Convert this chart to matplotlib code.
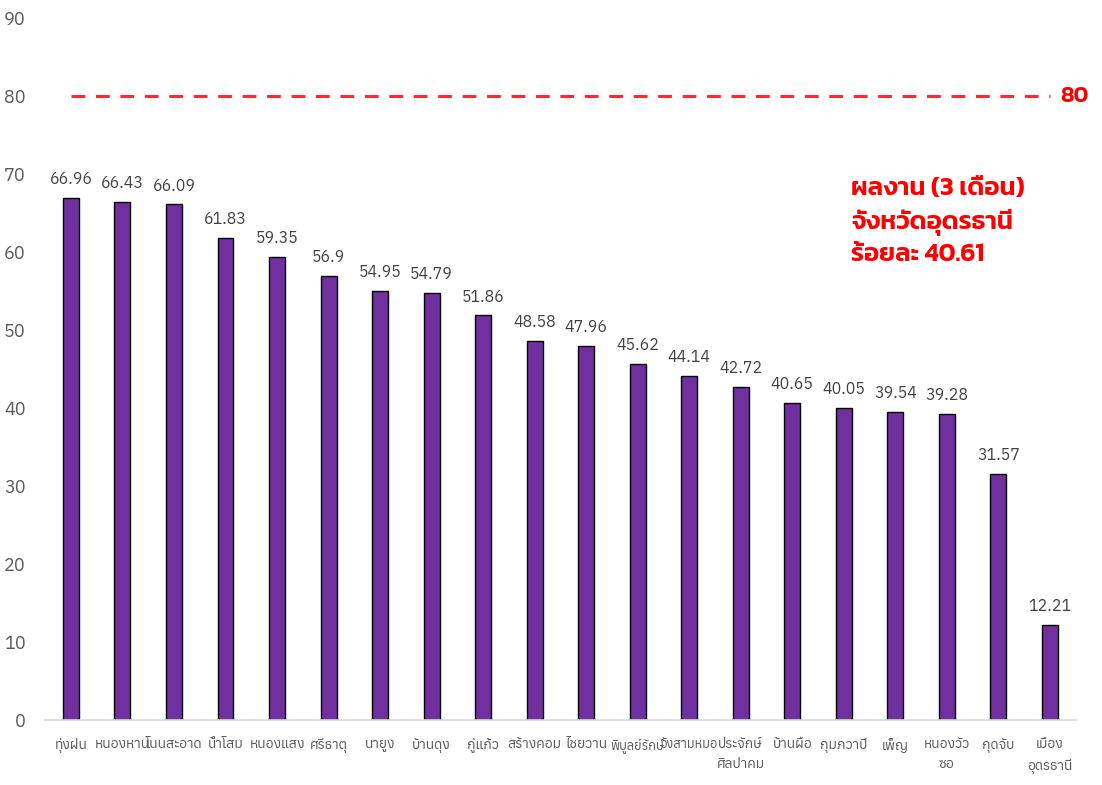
import matplotlib
matplotlib.use('Agg')
import matplotlib.pyplot as plt
import numpy as np

plt.rcParams['font.family'] = ['Anuphan', 'DejaVu Sans']

# อำเภอ และผลงาน (ร้อยละ)
districts = ['ทุ่งฝน', 'หนองหาน', 'โนนสะอาด', 'น้ำโสม', 'หนองแสง', 'ศรีธาตุ', 'นายูง',
             'บ้านดุง', 'กู่แก้ว', 'สร้างคอม', 'ไชยวาน', 'พิบูลย์รักษ์', 'วังสามหมอ',
             'ประจักษ์\nศิลปาคม', 'บ้านผือ', 'กุมภวาปี', 'เพ็ญ', 'หนองวัว\nซอ', 'กุดจับ',
             'เมือง\nอุดรธานี']
scores = [66.96, 66.43, 66.09, 61.83, 59.35, 56.9, 54.95, 54.79, 51.86, 48.58,
          47.96, 45.62, 44.14, 42.72, 40.65, 40.05, 39.54, 39.28, 31.57, 12.21]
target = 80
province_total = 40.61

fig = plt.figure(figsize=(11.02, 7.85), dpi=100)
ax = fig.add_axes([0.041, 0.083, 0.935, 0.894])

x = np.arange(len(districts))
ax.bar(x, scores, width=0.31, color='#7030A0', edgecolor='black', linewidth=1.0, zorder=2)

for xi, v in zip(x, scores):
    ax.text(xi, v + 1.4, f'{v:g}', ha='center', va='bottom', fontsize=11.5,
            color='#404040')

# เส้นเป้าหมาย 80
ax.plot(x, [target] * len(x), color='#FF2A2A', linestyle=(0, (4.5, 3.5)), linewidth=2.2, zorder=3)
ax.text(x[-1] + 0.2, target, str(target), color='#FF0000', fontsize=16, fontweight='semibold',
        va='center', ha='left', family=['Kanit', 'DejaVu Sans'])

ax.text(0.782, 0.709, f'ผลงาน (3 เดือน)\nจังหวัดอุดรธานี\nร้อยละ {province_total}',
        transform=ax.transAxes, color='#FF0000', fontsize=18.5, fontweight='semibold',
        ha='left', va='center', linespacing=1.4, family=['Kanit', 'DejaVu Sans'])

ax.set_xlim(-0.5, len(districts) - 0.5)
ax.set_ylim(0, 90)
ax.set_yticks(np.arange(0, 91, 10))
ax.set_xticks(x)
ax.set_xticklabels(districts, fontsize=10, linespacing=1.7)
# สองชื่อที่ยาวชิดกัน ย่อลงเล็กน้อย
for lbl in ax.get_xticklabels():
    if lbl.get_text() in ('พิบูลย์รักษ์', 'วังสามหมอ'):
        lbl.set_fontsize(9.2)
ax.tick_params(axis='both', length=0, labelcolor='#595959')
ax.tick_params(axis='y', labelsize=13, pad=14)
ax.tick_params(axis='x', pad=13)

for s in ['top', 'right', 'left']:
    ax.spines[s].set_visible(False)
ax.spines['bottom'].set_color('#D9D9D9')
ax.spines['bottom'].set_linewidth(1.2)

fig.savefig('out.png', dpi=100)
